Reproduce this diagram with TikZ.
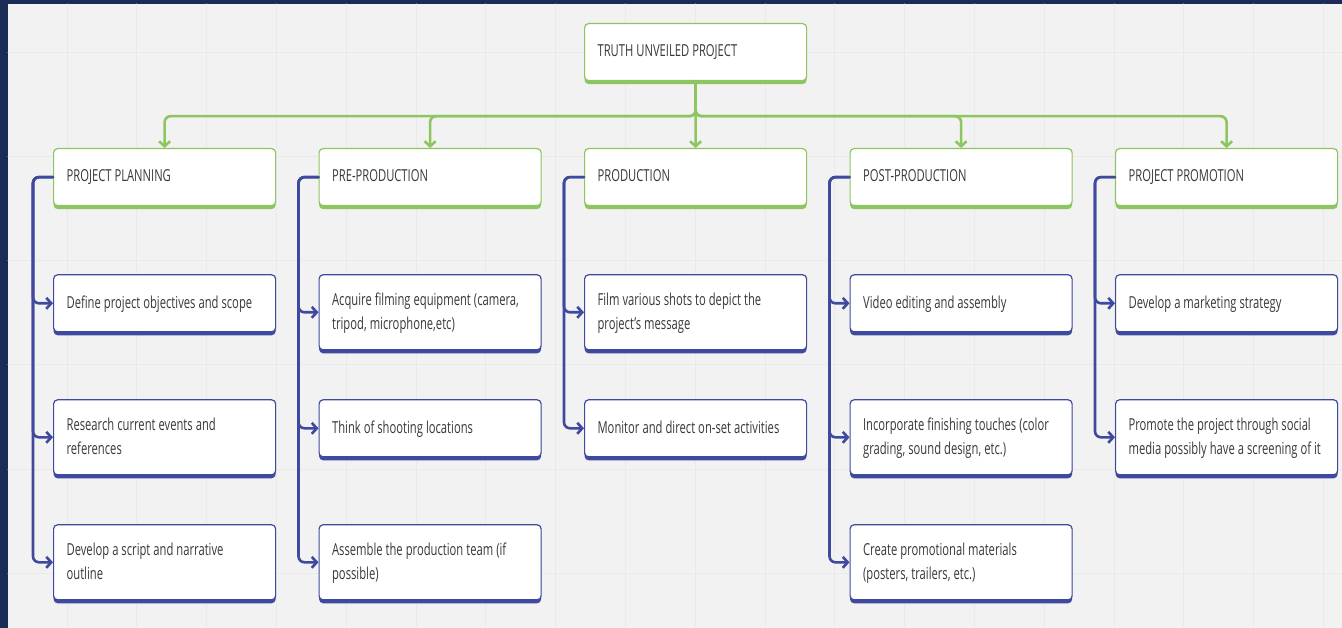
\documentclass[tikz,border=0pt]{standalone}
\usepackage{fontspec}
\setmainfont{Open Sans}[FakeStretch=0.68]
\usetikzlibrary{arrows.meta,positioning,shadows}

\definecolor{navy}{HTML}{1B2D57}
\definecolor{canvas}{HTML}{F2F2F2}
\definecolor{gridc}{HTML}{EAEAEA}
\definecolor{leafgreen}{HTML}{8DC660}
\definecolor{inkblue}{HTML}{3F4A9E}
\definecolor{txt}{HTML}{383838}

\begin{document}
\begin{tikzpicture}[x=1pt,y=1pt,>={Straight Barb[length=5pt,width=11pt]},line cap=round]
  \tikzstyle{card}=[anchor=north west,rectangle,rounded corners=4pt,fill=white,line width=1.2pt,
    text width=196pt,inner xsep=13pt,inner ysep=13.5pt,minimum height=57pt,align=left,text=txt,
    font=\fontsize{16.5}{24}\selectfont,
    execute at begin node={\spaceskip=3pt plus 1pt minus 0.5pt\xspaceskip=3pt\strut},
    execute at end node=\strut]
  \tikzstyle{stage}=[card,draw=leafgreen,drop shadow={shadow xshift=0pt,shadow yshift=-3.5pt,fill=leafgreen,opacity=1}]
  \tikzstyle{task}=[card,draw=inkblue,drop shadow={shadow xshift=0pt,shadow yshift=-3.5pt,fill=inkblue,opacity=1}]
  \tikzstyle{gline}=[draw=leafgreen,line width=2.6pt,rounded corners=6pt,->]
  \tikzstyle{bline}=[draw=inkblue,line width=2.6pt,rounded corners=6pt,->]

  \useasboundingbox (0,0) rectangle (1342,-628);
  % backdrop and faint grid
  \fill[navy] (0,0) rectangle (1342,-628);
  \fill[canvas] (8,-4) rectangle (1342,-628);
  \foreach \gx in {67,136.8,...,1330} \draw[gridc,line width=1pt] (\gx,-4) -- (\gx,-628);
  \foreach \gy in {-53,-157,-261,-365,-469,-573} \draw[gridc,line width=1pt] (8,\gy) -- (1342,\gy);

  \node[stage] (root) at (584,-23) {TRUTH UNVEILED PROJECT};

  \node[stage] (plan) at (53,-148) {PROJECT PLANNING};
  \node[stage] (pre)   [right=42.3pt of plan]  {PRE-PRODUCTION};
  \node[stage] (prod)  [right=42.3pt of pre]   {PRODUCTION};
  \node[stage] (post)  [right=42.3pt of prod]  {POST-PRODUCTION};
  \node[stage] (promo) [right=42.3pt of post]  {PROJECT PROMOTION};

  % project planning
  \node[task] (plan1) [below=68pt of plan.south west,anchor=north west] {Define project objectives and scope};
  \node[task] (plan2) [below=125pt of plan1.north west,anchor=north west] {Research current events and\\references};
  \node[task] (plan3) [below=125pt of plan2.north west,anchor=north west] {Develop a script and narrative\\outline};
  % pre-production
  \node[task] (pre1) [below=68pt of pre.south west,anchor=north west] {Acquire filming equipment (camera,\\tripod, microphone,etc)};
  \node[task] (pre2) [below=125pt of pre1.north west,anchor=north west] {Think of shooting locations};
  \node[task] (pre3) [below=125pt of pre2.north west,anchor=north west] {Assemble the production team (if\\possible)};
  % production
  \node[task] (prod1) [below=68pt of prod.south west,anchor=north west] {Film various shots to depict the\\project's message};
  \node[task] (prod2) [below=125pt of prod1.north west,anchor=north west] {Monitor and direct on-set activities};
  % post-production
  \node[task] (post1) [below=68pt of post.south west,anchor=north west] {Video editing and assembly};
  \node[task] (post2) [below=125pt of post1.north west,anchor=north west] {Incorporate finishing touches (color\\grading, sound design, etc.)};
  \node[task] (post3) [below=125pt of post2.north west,anchor=north west] {Create promotional materials\\(posters, trailers, etc.)};
  % promotion
  \node[task] (promo1) [below=68pt of promo.south west,anchor=north west] {Develop a marketing strategy};
  \node[task] (promo2) [below=125pt of promo1.north west,anchor=north west] {Promote the project through social\\media possibly have a screening of it};

  \path[gline] (root.south) -- ++(0,-35) -| (plan.north);
  \path[gline] (root.south) -- ++(0,-35) -| (pre.north);
  \path[gline] (root.south) -- (prod.north);
  \path[gline] (root.south) -- ++(0,-35) -| (post.north);
  \path[gline] (root.south) -- ++(0,-35) -| (promo.north);

  \path[bline] (plan.west) -- ++(-20,0) |- (plan1.west);
  \path[bline] (plan.west) -- ++(-20,0) |- (plan2.west);
  \path[bline] (plan.west) -- ++(-20,0) |- (plan3.west);
  \path[bline] (pre.west) -- ++(-20,0) |- (pre1.west);
  \path[bline] (pre.west) -- ++(-20,0) |- (pre2.west);
  \path[bline] (pre.west) -- ++(-20,0) |- (pre3.west);
  \path[bline] (prod.west) -- ++(-20,0) |- (prod1.west);
  \path[bline] (prod.west) -- ++(-20,0) |- (prod2.west);
  \path[bline] (post.west) -- ++(-20,0) |- (post1.west);
  \path[bline] (post.west) -- ++(-20,0) |- (post2.west);
  \path[bline] (post.west) -- ++(-20,0) |- (post3.west);
  \path[bline] (promo.west) -- ++(-20,0) |- (promo1.west);
  \path[bline] (promo.west) -- ++(-20,0) |- (promo2.west);
\end{tikzpicture}
\end{document}
